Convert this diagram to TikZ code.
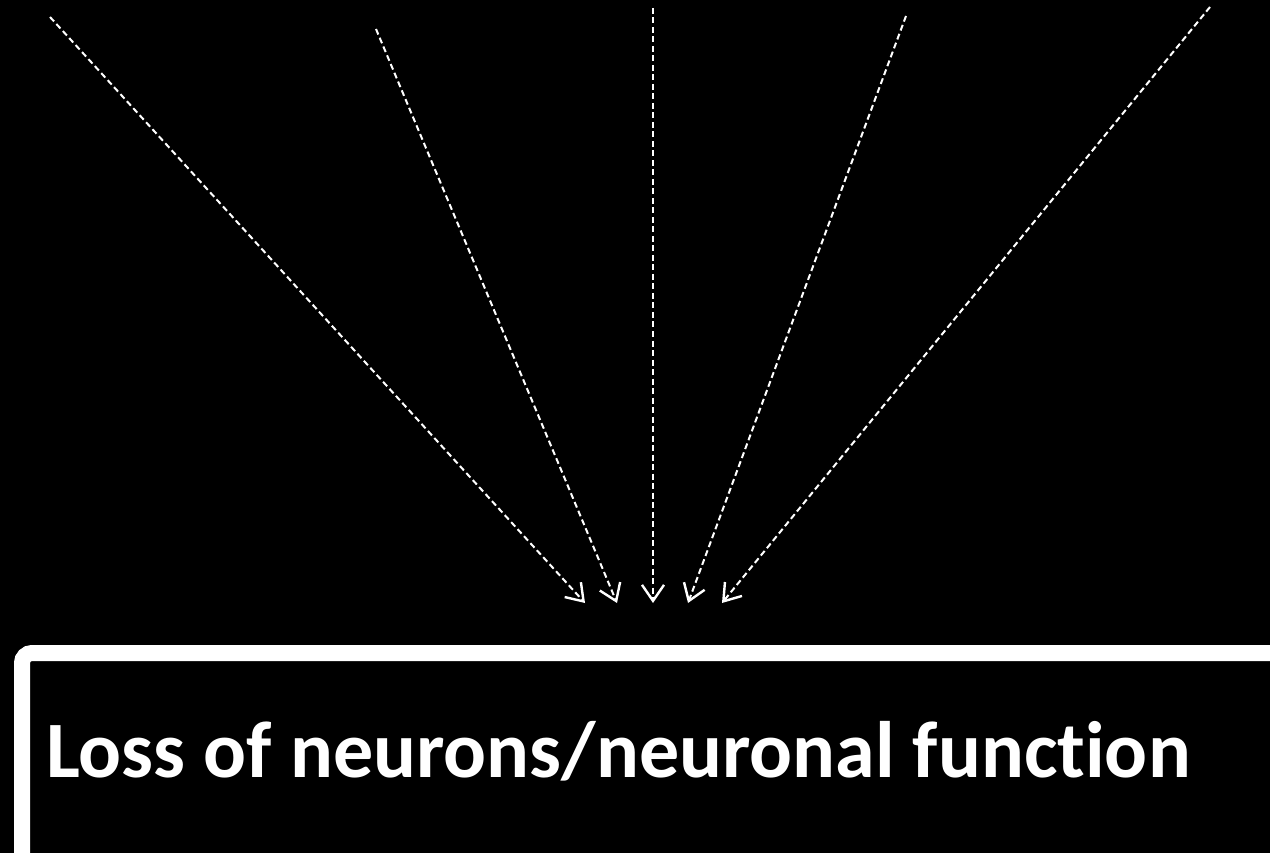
\documentclass[tikz,border=0pt]{standalone}
\usepackage{fontspec}
\setmainfont{Carlito}[Ligatures={NoCommon}]
\usetikzlibrary{arrows.meta}
\begin{document}
\begin{tikzpicture}[x=1pt,y=-1pt,
  conn/.style={draw=white,line width=2pt,dash pattern=on 6pt off 3.5pt,
    -{Straight Barb[length=16pt,width=22pt,line width=2.4pt]}},
  lossbox/.style={draw=white,line width=16pt,rounded corners=10pt}]
\fill[black] (0,0) rectangle (1270,853);
\useasboundingbox (0,0) rectangle (1270,853);
\coordinate (s1) at (50,17);
\coordinate (s2) at (376,29);
\coordinate (s3) at (653,8);
\coordinate (s4) at (906,16);
\coordinate (s5) at (1210,7);
\coordinate (t1) at (585,603);
\coordinate (t2) at (617,603);
\coordinate (t3) at (653,603);
\coordinate (t4) at (688,603);
\coordinate (t5) at (722,603);
\draw[conn] (s1) -- (t1);
\draw[conn] (s2) -- (t2);
\draw[conn] (s3) -- (t3);
\draw[conn] (s4) -- (t4);
\draw[conn] (s5) -- (t5);
\draw[lossbox] (22,653) rectangle (1300,870);
\node[anchor=base west,inner sep=0pt,text=white,font=\bfseries\fontsize{80}{92}\selectfont] (loss) at (46,777) {Loss of neurons/neuronal function};
\end{tikzpicture}
\end{document}
